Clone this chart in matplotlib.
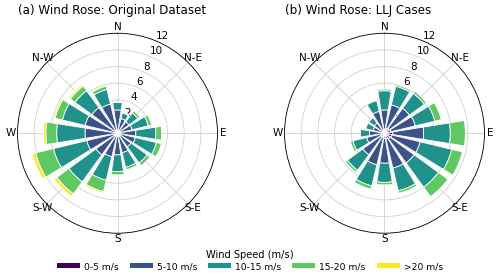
"""Wind rose comparison: original dataset vs LLJ cases."""

import numpy as np
import matplotlib
matplotlib.use("Agg")
import matplotlib.pyplot as plt
from matplotlib.patches import Patch

# 16 direction sectors, clockwise from north
directions = ["N", "NNE", "NE", "ENE", "E", "ESE", "SE", "SSE",
              "S", "SSW", "SW", "WSW", "W", "WNW", "NW", "NNW"]
speed_bins = ["0-5 m/s", "5-10 m/s", "10-15 m/s", "15-20 m/s", ">20 m/s"]

# frequency (%) per speed bin, one list per bin, ordered as `directions`
orig_0_5 = [0.3] * 16
orig_5_10 = [2.5, 1.5, 1.4, 1.5, 1.9, 1.9, 1.7, 2.1, 2.3, 2.6, 2.9, 3.5, 3.6, 3.7, 3.5, 3.3]
orig_10_15 = [0.9, 0.7, 1.3, 2.0, 2.4, 2.6, 2.4, 1.8, 2.0, 2.9, 4.0, 4.1, 3.4, 2.8, 2.5, 1.8]
orig_15_20 = [0.1, 0.1, 0.3, 0.4, 0.7, 0.6, 0.4, 0.3, 0.4, 1.4, 1.8, 2.2, 1.3, 0.9, 0.7, 0.4]
orig_20 = [0.0, 0.0, 0.0, 0.0, 0.0, 0.0, 0.0, 0.0, 0.0, 0.2, 0.4, 0.4, 0.3, 0.2, 0.2, 0.0]

llj_0_5 = [0.5, 0.6, 0.7, 0.8, 1.0, 0.9, 0.8, 0.7, 0.6, 0.5, 0.5, 0.4, 0.3, 0.3, 0.3, 0.4]
llj_5_10 = [2.3, 2.9, 3.0, 3.0, 3.7, 3.5, 3.6, 3.6, 3.0, 3.4, 2.7, 1.8, 1.5, 1.1, 1.2, 2.3]
llj_10_15 = [2.3, 2.3, 2.2, 2.4, 3.2, 3.9, 3.6, 2.8, 2.3, 2.6, 2.3, 1.7, 1.1, 0.9, 0.8, 1.3]
llj_15_20 = [0.2, 0.2, 0.3, 0.8, 1.8, 1.3, 1.4, 0.3, 0.3, 0.4, 0.3, 0.3, 0.0, 0.0, 0.0, 0.0]
llj_20 = [0.0] * 16

r_ticks = [0, 2, 4, 6, 8, 10, 12]
compass = ["N", "N-E", "E", "S-E", "S", "S-W", "W", "N-W"]

colors = plt.cm.viridis(np.linspace(0, 1, len(speed_bins)))


def draw_rose(ax, bins, title):
    n = len(directions)
    theta = np.arange(n) * 2 * np.pi / n
    width = 0.8 * 2 * np.pi / n
    bottom = np.zeros(n)
    for vals, color in zip(bins, colors):
        vals = np.asarray(vals, dtype=float)
        mask = vals > 0
        ax.bar(theta[mask], vals[mask], width=width, bottom=bottom[mask],
               color=color, edgecolor="white", linewidth=0.6, zorder=2)
        bottom += vals

    ax.set_theta_zero_location("N")
    ax.set_theta_direction(-1)
    ax.set_ylim(0, 12)
    ax.set_yticks(r_ticks)
    ax.set_yticklabels([str(t) for t in r_ticks], fontsize=7.5)
    ax.set_rlabel_position(22.5)
    ax.set_xticks(np.deg2rad(np.arange(0, 360, 45)))
    ax.set_xticklabels(compass, fontsize=7.5)
    ax.tick_params(axis="x", pad=-6)
    ax.grid(True, color="#d0d0d0", linewidth=0.6, zorder=0)
    ax.set_axisbelow(True)
    ax.spines["polar"].set_linewidth(0.6)
    # title placed by hand so the N label does not push it off the figure
    ax.text(0.0, 1.115, title, transform=ax.transAxes, ha="left", va="center",
            fontsize=8.6)


fig = plt.figure(figsize=(5.0, 2.77), dpi=100)
ax1 = fig.add_axes([0.035, 0.158, 0.4, 0.722], projection="polar")
ax2 = fig.add_axes([0.569, 0.158, 0.4, 0.722], projection="polar")

draw_rose(ax1, [orig_0_5, orig_5_10, orig_10_15, orig_15_20, orig_20],
          "(a) Wind Rose: Original Dataset")
draw_rose(ax2, [llj_0_5, llj_5_10, llj_10_15, llj_15_20, llj_20],
          "(b) Wind Rose: LLJ Cases")

handles = [Patch(facecolor=c, edgecolor="none") for c in colors]
fig.legend(handles, speed_bins, loc="center", bbox_to_anchor=(0.5, 0.06),
           ncol=5, frameon=False, fontsize=6.6, title="Wind Speed (m/s)",
           title_fontsize=7.1, handlelength=2.5, handleheight=0.5,
           columnspacing=1.2, handletextpad=0.45, borderpad=0.2, labelspacing=0.25)

fig.savefig("out.png", dpi=100)
